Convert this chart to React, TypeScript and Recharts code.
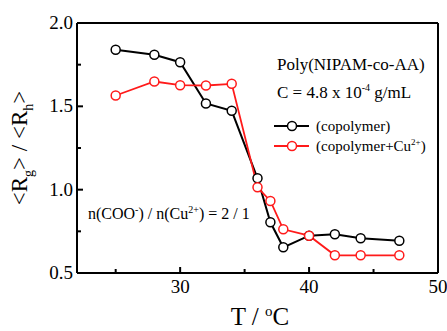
import { LineChart, Line, XAxis, YAxis, ReferenceLine, Legend } from "recharts";

const temps = [25, 28, 30, 32, 34, 36, 37, 38, 40, 42, 44, 47];
const copolymer = [1.84, 1.81, 1.765, 1.517, 1.473, 1.068, 0.804, 0.654, 0.724, 0.732, 0.708, 0.694];
const withCu = [1.565, 1.649, 1.627, 1.625, 1.635, 1.014, 0.932, 0.762, 0.724, 0.606, 0.606, 0.606];
const xTicks = [25, 30, 35, 40, 45, 50];
const yTicks = [0.5, 0.75, 1.0, 1.25, 1.5, 1.75, 2.0];

const data = temps.map((t, i) => ({ t, copolymer: copolymer[i], withCu: withCu[i] }));

const FONT = "'Liberation Serif', 'DejaVu Serif', serif";

function XTick({ x, y, payload }: any) {
  const major = payload.value % 10 === 0;
  return (
    <g>
      <line x1={x} x2={x} y1={y} y2={y - (major ? 6 : 4)} stroke="#000" strokeWidth={2} />
      {major && (
        <text x={x} y={y + 20} textAnchor="middle" fontFamily={FONT} fontSize={19} fill="#000">
          {payload.value}
        </text>
      )}
    </g>
  );
}

function YTick({ x, y, payload }: any) {
  const v = payload.value;
  const major = Math.abs(v * 2 - Math.round(v * 2)) < 1e-6;
  return (
    <g>
      <line x1={x} x2={x + (major ? 6 : 4)} y1={y} y2={y} stroke="#000" strokeWidth={2} />
      {major && (
        <text x={x - 4} y={y + 6} textAnchor="end" fontFamily={FONT} fontSize={19} fill="#000">
          {v.toFixed(1)}
        </text>
      )}
    </g>
  );
}

function LegendBox({ payload }: any) {
  return (
    <div style={{ fontFamily: FONT, fontSize: 15 }}>
      {(payload || []).map((p: any) => (
        <div key={p.value} style={{ display: "flex", alignItems: "center", height: 20 }}>
          <svg width={40} height={14}>
            <line x1={2} x2={37} y1={7} y2={7} stroke={p.color} strokeWidth={2} />
            <circle cx={20} cy={7} r={4.5} fill="#fff" stroke={p.color} strokeWidth={1.5} />
          </svg>
          <span style={{ marginLeft: 4 }}>
            {p.value === "copolymer" ? "(copolymer)" : <>(copolymer+Cu<sup style={{ fontSize: 9 }}>2+</sup>)</>}
          </span>
        </div>
      ))}
    </div>
  );
}

export default function App() {
  return (
    <div style={{ position: "absolute", left: 0, top: 0, width: 447, height: 331, background: "#fff" }}>
      <LineChart width={447} height={331} data={data} margin={{ top: 23, right: 9, left: 17, bottom: 28 }}>
        <XAxis
          dataKey="t"
          type="number"
          domain={[22, 50]}
          ticks={xTicks}
          tick={<XTick />}
          tickLine={false}
          tickSize={0}
          tickMargin={0}
          height={30}
          axisLine={{ stroke: "#000", strokeWidth: 2 }}
          interval={0}
        />
        <YAxis
          type="number"
          domain={[0.5, 2.0]}
          ticks={yTicks}
          tick={<YTick />}
          tickLine={false}
          tickSize={0}
          tickMargin={0}
          width={60}
          axisLine={{ stroke: "#000", strokeWidth: 2 }}
          interval={0}
        />
        <ReferenceLine y={2.0} stroke="#000" strokeWidth={2} />
        <ReferenceLine x={50} stroke="#000" strokeWidth={2} />
        <Legend
          layout="vertical"
          align="center"
          verticalAlign="middle"
          content={<LegendBox />}
          wrapperStyle={{ position: "absolute", left: 272, top: 116, width: 175 }}
        />
        <Line
          dataKey="copolymer"
          name="copolymer"
          stroke="#000"
          strokeWidth={2}
          dot={{ r: 4.5, fill: "#fff", stroke: "#000", strokeWidth: 1.5 }}
          isAnimationActive={false}
        />
        <Line
          dataKey="withCu"
          name="withCu"
          stroke="#ff1a1a"
          strokeWidth={1.8}
          dot={{ r: 4.5, fill: "#fff", stroke: "#ff1a1a", strokeWidth: 1.5 }}
          isAnimationActive={false}
        />
      </LineChart>
      <div style={{ position: "absolute", left: 277, top: 53, fontFamily: FONT, fontSize: 17, lineHeight: "23px", whiteSpace: "nowrap" }}>
        <div>Poly(NIPAM-co-AA)</div>
        <div>
          C = 4.8 x 10<sup style={{ fontSize: 10 }}>-4</sup> g/mL
        </div>
      </div>
      <div style={{ position: "absolute", left: 88, top: 204, fontFamily: FONT, fontSize: 16, whiteSpace: "nowrap" }}>
        n(COO<sup style={{ fontSize: 10 }}>-</sup>) / n(Cu<sup style={{ fontSize: 10 }}>2+</sup>) = 2 / 1
      </div>
      <div
        style={{
          position: "absolute",
          left: 22,
          top: 148,
          transform: "translate(-50%, -50%) rotate(-90deg)",
          fontFamily: FONT,
          fontSize: 23,
          whiteSpace: "nowrap",
        }}
      >
        &lt;R<sub style={{ fontSize: 14 }}>g</sub>&gt; / &lt;R<sub style={{ fontSize: 14 }}>h</sub>&gt;
      </div>
      <div style={{ position: "absolute", left: 260, top: 303, transform: "translateX(-50%)", fontFamily: FONT, fontSize: 25, whiteSpace: "nowrap" }}>
        T / <sup style={{ fontSize: 15 }}>o</sup>C
      </div>
    </div>
  );
}
